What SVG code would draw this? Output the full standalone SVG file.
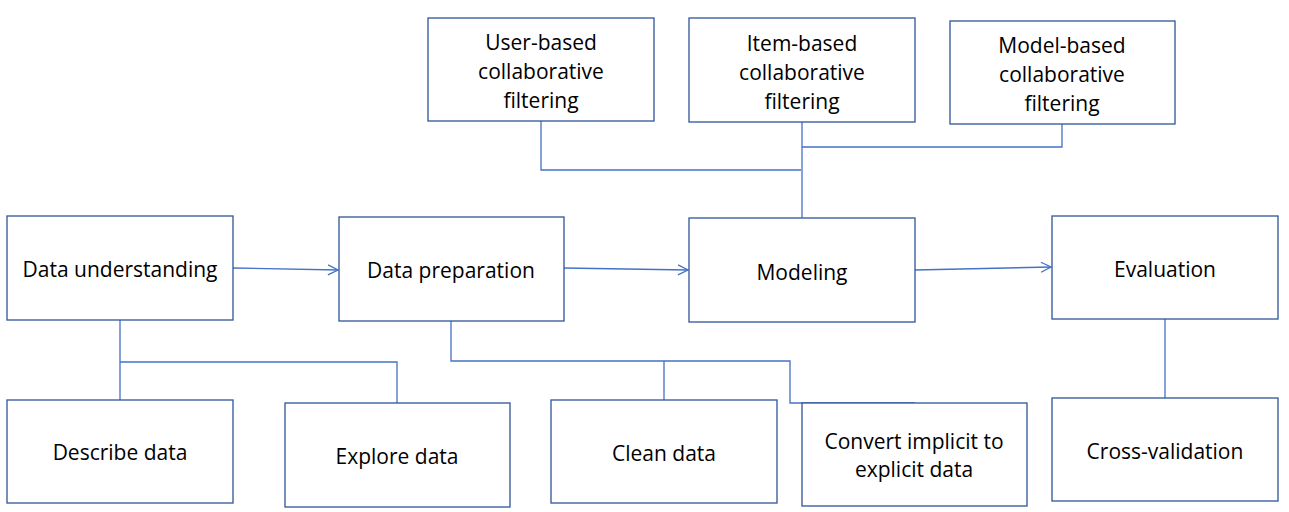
<svg xmlns="http://www.w3.org/2000/svg" width="1289" height="512" viewBox="0 0 1289 512">
<style>
.box{fill:#fff;stroke:#2F5597;stroke-width:1.3}
.t{font-family:"Open Sans","Liberation Sans",sans-serif;font-size:21px;fill:#000;text-anchor:middle;dominant-baseline:central}
.c{fill:none;stroke:#4472C4;stroke-width:1.3}
</style>
<defs>
<marker id="arr" viewBox="0 0 12 12" refX="11" refY="6" markerWidth="12" markerHeight="12" markerUnits="userSpaceOnUse" orient="auto">
<path d="M1,1 L11,6 L1,11" fill="none" stroke="#4472C4" stroke-width="1.3"/>
</marker>
</defs>
<rect width="1289" height="512" fill="#fff"/>
<g id="connectors">
<path class="c" d="M233,268 L338,270" marker-end="url(#arr)"/>
<path class="c" d="M564,268 L688,270" marker-end="url(#arr)"/>
<path class="c" d="M915,270 L1051,267" marker-end="url(#arr)"/>
<path class="c" d="M541,121 V170 H801"/>
<path class="c" d="M802,122 V218"/>
<path class="c" d="M1062,124 V147 H802"/>
<path class="c" d="M120,320 V400"/>
<path class="c" d="M120,362 H397 V403"/>
<path class="c" d="M451,321 V361 H790 V403 H915"/>
<path class="c" d="M664,361 V400"/>
<path class="c" d="M1165,319 V398"/>
</g>
<g id="n-understanding"><rect class="box" x="7" y="216" width="226" height="104"/><text class="t" x="120" y="269">Data understanding</text></g>
<g id="n-preparation"><rect class="box" x="339" y="217" width="225" height="104"/><text class="t" x="451" y="270">Data preparation</text></g>
<g id="n-modeling"><rect class="box" x="689" y="218" width="226" height="104"/><text class="t" x="802" y="272">Modeling</text></g>
<g id="n-evaluation"><rect class="box" x="1052" y="216" width="226" height="103"/><text class="t" x="1165" y="269">Evaluation</text></g>
<g id="n-user"><rect class="box" x="428" y="18" width="226" height="103"/><text class="t" x="541" y="42">User-based</text><text class="t" x="541" y="71">collaborative</text><text class="t" x="541" y="100">filtering</text></g>
<g id="n-item"><rect class="box" x="689" y="18" width="226" height="104"/><text class="t" x="802" y="43">Item-based</text><text class="t" x="802" y="72">collaborative</text><text class="t" x="802" y="101">filtering</text></g>
<g id="n-model"><rect class="box" x="950" y="21" width="225" height="103"/><text class="t" x="1062" y="45">Model-based</text><text class="t" x="1062" y="74">collaborative</text><text class="t" x="1062" y="103">filtering</text></g>
<g id="n-describe"><rect class="box" x="7" y="400" width="226" height="103"/><text class="t" x="120" y="452">Describe data</text></g>
<g id="n-explore"><rect class="box" x="285" y="403" width="225" height="104"/><text class="t" x="397" y="456">Explore data</text></g>
<g id="n-clean"><rect class="box" x="551" y="400" width="226" height="103"/><text class="t" x="664" y="453">Clean data</text></g>
<g id="n-convert"><rect class="box" x="802" y="403" width="225" height="103"/><text class="t" x="914" y="441">Convert implicit to</text><text class="t" x="914" y="469">explicit data</text></g>
<g id="n-cross"><rect class="box" x="1052" y="398" width="226" height="103"/><text class="t" x="1165" y="451">Cross-validation</text></g>
</svg>
